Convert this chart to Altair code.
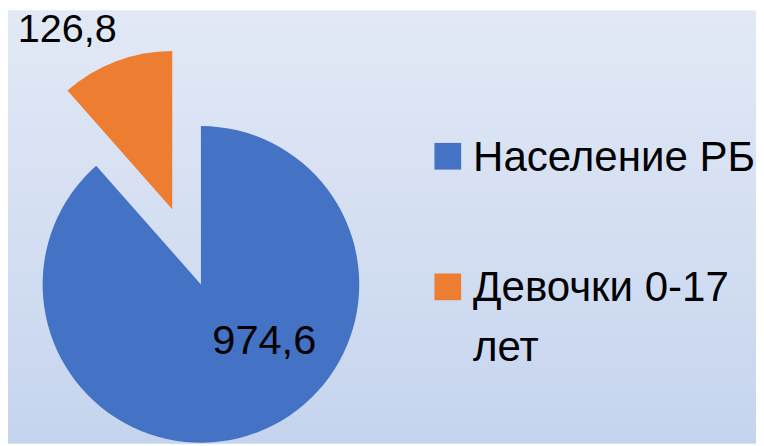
import altair as alt
import pandas as pd

categories = ["Население РБ", "Девочки 0-17 лет"]
values = [974.6, 126.8]
legend_text = ["Население РБ", "Девочки 0-17\nлет"]
colors = ["#4472C4", "#ED7D31"]
bg_colors = ["#E2E9F5", "#C5D4EE"]

df = pd.DataFrame({"cat": categories, "value": values, "legend": legend_text})
total = sum(values)
FONT = "Liberation Sans"

bg = alt.Chart(pd.DataFrame({"a": [0]})).mark_rect(
    color=alt.Gradient(
        gradient="linear", x1=0, y1=0, x2=0, y2=1,
        stops=[alt.GradientStop(offset=0, color=bg_colors[0]), alt.GradientStop(offset=1, color=bg_colors[1])],
    )
).encode(x=alt.value(0), x2=alt.value(756), y=alt.value(0), y2=alt.value(438))

base = (
    alt.Chart(df)
    .transform_window(i="row_number()")
    .transform_stack(stack="value", groupby=[], as_=["t0", "t1"], sort=[alt.SortField("i")])
    .transform_calculate(label="replace(format(datum.value, '.1f'), '.', ',')")
)

color = alt.Color("cat:N", scale=alt.Scale(domain=categories, range=colors), legend=None)
theta = alt.Theta("t0:Q", scale=alt.Scale(domain=[0, total]))

blue = base.transform_filter(alt.datum.cat == categories[0]).mark_arc(radius=160).encode(
    theta=theta, theta2="t1:Q", color=color, x=alt.value(195), y=alt.value(277)
)
orange = base.transform_filter(alt.datum.cat == categories[1]).mark_arc(radius=160).encode(
    theta=theta, theta2="t1:Q", color=color, x=alt.value(166), y=alt.value(201)
)

lbl_blue = base.transform_filter(alt.datum.cat == categories[0]).mark_text(
    font=FONT, fontSize=42, align="center", baseline="alphabetic", color="black"
).encode(text="label:N", x=alt.value(259), y=alt.value(347))
lbl_orange = base.transform_filter(alt.datum.cat == categories[1]).mark_text(
    font=FONT, fontSize=40, align="center", baseline="top", color="black"
).encode(text="label:N", x=alt.value(60), y=alt.value(0))

ly = alt.Y("cat:N", scale=alt.Scale(type="point", domain=categories, range=[147.5, 279.5], padding=0), axis=None)
leg_sym = alt.Chart(df).mark_point(shape="square", filled=True, size=729, opacity=1).encode(
    x=alt.value(444.5), y=ly, color=color
)
leg_txt = alt.Chart(df).mark_text(
    font=FONT, fontSize=42.5, align="left", baseline="alphabetic", dy=14.5, lineBreak="\n", lineHeight=60, color="black"
).encode(x=alt.value(470), y=ly, text="legend:N")

chart = (
    alt.layer(bg, blue, orange, lbl_blue, lbl_orange, leg_sym, leg_txt)
    .properties(width=756, height=438, autosize=alt.AutoSizeParams(type="none"), padding=0)
    .configure_view(stroke=None)
)

chart.save("out.html", embed_options={"renderer": "svg", "actions": False})
